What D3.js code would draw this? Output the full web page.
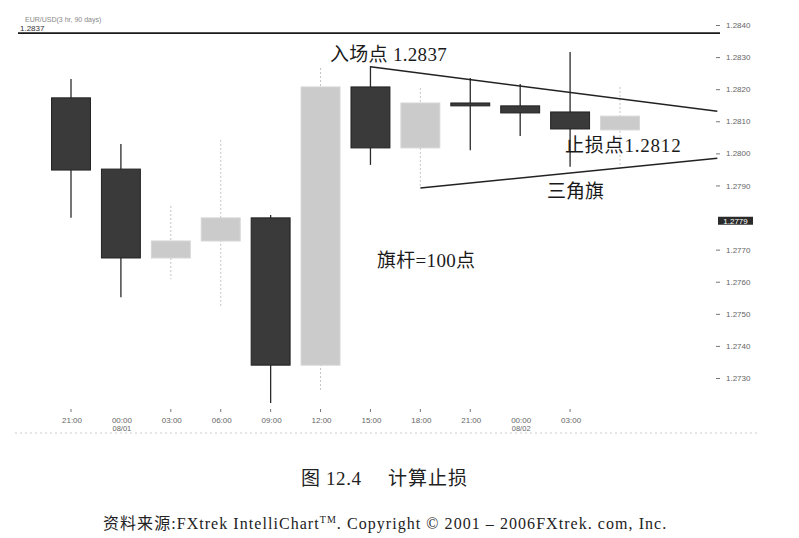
<!DOCTYPE html>
<html>
<head>
<meta charset="utf-8">
<script src="https://cdn.jsdelivr.net/npm/d3@7/dist/d3.min.js"></script>
<style>
  html, body { margin: 0; padding: 0; background: #fff; }
  svg { display: block; }
</style>
</head>
<body>
<svg id="chart" width="799" height="538"></svg>
<script>
// ---- data ----
const timeLabels = ["21:00","00:00","03:00","06:00","09:00","12:00","15:00","18:00","21:00","00:00","03:00","06:00"];
const dateLabels = ["","08/01","","","","","","","","08/02","",""];
const showLabel  = [true,true,true,true,true,true,true,true,true,true,true,false];
const opens  = [1.28173, 1.27951, 1.27674, 1.27727, 1.27799, 1.27340, 1.28207, 1.28017, 1.28157, 1.28148, 1.28129, 1.28073];
const closes = [1.27948, 1.27674, 1.27727, 1.27799, 1.27340, 1.28207, 1.28017, 1.28157, 1.28148, 1.28126, 1.28076, 1.28116];
const highs  = [1.28232, 1.28029, 1.27836, 1.28042, 1.27808, 1.28266, 1.28272, 1.28204, 1.28235, 1.28216, 1.28316, 1.28207];
const lows   = [1.27799, 1.27552, 1.27608, 1.27518, 1.27222, 1.27263, 1.27964, 1.27895, 1.28010, 1.28054, 1.27958, 1.27945];
const yTicks = [1.2840, 1.2830, 1.2820, 1.2810, 1.2800, 1.2790, 1.2770, 1.2760, 1.2750, 1.2740, 1.2730];
const lastPrice = 1.2779;
const refPrice = 1.2837;
const upperLine = [[6, 1.2827], [12.95, 1.28131]];
const lowerLine = [[7, 1.27892], [12.95, 1.27985]];

const svg = d3.select("#chart");
const x = d3.scaleLinear().domain([0, 11]).range([71, 620]);
const y = d3.scaleLinear().domain([1.2730, 1.2840]).range([378, 25]);
const step = x(1) - x(0);
const bw = step * 0.78;

const candles = opens.map((o, i) => ({i, o, c: closes[i], h: highs[i], l: lows[i], up: closes[i] >= o}));

// header
svg.append("text").attr("x", 25).attr("y", 22)
  .style("font", "7px 'Liberation Sans', Arial, sans-serif").style("fill", "#888")
  .text("EUR/USD(3 hr, 90 days)");
svg.append("text").attr("x", 20).attr("y", 31)
  .style("font", "8px 'Liberation Sans', Arial, sans-serif").style("fill", "#333")
  .text(refPrice.toFixed(4));
svg.append("line").attr("x1", 18).attr("x2", 720)
  .attr("y1", y(refPrice) - 1.5).attr("y2", y(refPrice) - 1.5)
  .attr("stroke", "#1a1a1a").attr("stroke-width", 1.8);

// bottom dotted axis line
svg.append("line").attr("x1", 15).attr("x2", 760).attr("y1", 433).attr("y2", 433)
  .attr("stroke", "#ccc").attr("stroke-dasharray", "2,3");

// wicks
svg.append("g").selectAll("line").data(candles).join("line")
  .attr("x1", d => x(d.i)).attr("x2", d => x(d.i))
  .attr("y1", d => y(d.h)).attr("y2", d => y(d.l))
  .attr("stroke", d => d.up ? "#c4c4c4" : "#2a2a2a")
  .attr("stroke-width", d => d.up ? 1 : 1.3)
  .attr("stroke-dasharray", d => d.up ? "2,2" : null);

// bodies
svg.append("g").selectAll("rect").data(candles).join("rect")
  .attr("x", d => x(d.i) - bw / 2)
  .attr("width", bw)
  .attr("y", d => y(Math.max(d.o, d.c)))
  .attr("height", d => Math.max(2.5, Math.abs(y(d.o) - y(d.c))))
  .attr("fill", d => d.up ? "#cbcbcb" : "#3a3a3a")
  .attr("stroke", d => d.up ? "#d6d6d6" : "#222")
  .attr("stroke-width", 1);

// x axis labels
const xg = svg.append("g");
candles.forEach(d => {
  if (!showLabel[d.i]) return;
  if (timeLabels[d.i] !== "00:00") {
    xg.append("line").attr("x1", x(d.i)).attr("x2", x(d.i)).attr("y1", 409).attr("y2", 412)
      .attr("stroke", "#777");
  }
  xg.append("text").attr("x", x(d.i) + 1).attr("y", 423).attr("text-anchor", "middle")
    .style("font", "8px 'Liberation Sans', Arial, sans-serif").style("fill", "#666")
    .text(timeLabels[d.i]);
  if (dateLabels[d.i]) {
    xg.append("text").attr("x", x(d.i) + 1).attr("y", 431).attr("text-anchor", "middle")
      .style("font", "7.5px 'Liberation Sans', Arial, sans-serif").style("fill", "#666")
      .text(dateLabels[d.i]);
  }
});

// right y axis
const yAxis = d3.axisRight(y).tickValues(yTicks).tickSize(4).tickPadding(6)
  .tickFormat(d3.format(".4f"));
const yg = svg.append("g").attr("transform", "translate(716,0)").call(yAxis);
yg.select(".domain").remove();
yg.selectAll("line").attr("stroke", "#777");
yg.selectAll("text").style("font", "8px 'Liberation Sans', Arial, sans-serif").style("fill", "#666");

// last price box
svg.append("rect").attr("x", 718).attr("y", y(lastPrice) - 4).attr("width", 35).attr("height", 8)
  .attr("fill", "#2b2b2b");
svg.append("text").attr("x", 735.5).attr("y", y(lastPrice) + 3).attr("text-anchor", "middle")
  .style("font", "8px 'Liberation Sans', Arial, sans-serif").style("fill", "#fff")
  .text(lastPrice.toFixed(4));

// triangle lines
const line = d3.line().x(d => x(d[0])).y(d => y(d[1]));
[upperLine, lowerLine].forEach(pts => {
  svg.append("path").attr("d", line(pts)).attr("fill", "none")
    .attr("stroke", "#222").attr("stroke-width", 1.5);
});

// annotations
const annFont = "19px 'Liberation Serif', 'Noto Sans CJK SC', serif";
function ann(text, xx, yy, ls) {
  svg.append("text").attr("x", xx).attr("y", yy)
    .style("font", annFont).style("letter-spacing", (ls || 0) + "px").style("fill", "#1a1a1a").text(text);
}
ann("入场点 1.2837", 330, 61, 0.3);
ann("止损点1.2812", 565, 152, 0.8);
ann("三角旗", 547, 198);
ann("旗杆=100点", 377, 267, 0.3);

// caption
svg.append("text").attr("x", 301).attr("y", 485)
  .style("font", "19px 'Liberation Serif', 'Noto Sans CJK SC', serif").style("letter-spacing", "0.6px").style("fill", "#222")
  .text("图 12.4");
svg.append("text").attr("x", 388).attr("y", 485)
  .style("font", "19px 'Liberation Serif', 'Noto Sans CJK SC', serif").style("letter-spacing", "1px").style("fill", "#222")
  .text("计算止损");

const src = svg.append("text").attr("x", 103).attr("y", 529)
  .style("font", "16px 'Liberation Serif', 'Noto Sans CJK SC', serif")
  .style("letter-spacing", "1.05px").style("fill", "#222");
src.append("tspan").text("资料来源:FXtrek IntelliChart");
src.append("tspan").attr("dy", -6).style("font-size", "10px").text("TM");
src.append("tspan").attr("dy", 6).text(". Copyright © 2001 – 2006FXtrek. com, Inc.");
</script>
</body>
</html>
